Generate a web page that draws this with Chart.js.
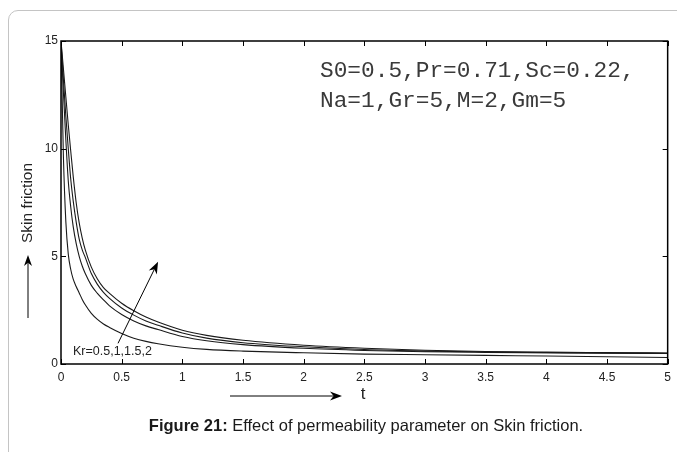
<!DOCTYPE html>
<html lang="en">
<head>
<meta charset="UTF-8">
<title>Skin friction vs t</title>
<script src="https://cdn.jsdelivr.net/npm/chart.js"></script>
<style>
    html, body {
        margin: 0;
        padding: 0;
        background: #fff;
        overflow: hidden;
    }
    body {
        width: 677px;
        height: 452px;
        position: relative;
        font-family: "Liberation Sans", Arial, sans-serif;
    }
    .card {
        position: absolute;
        left: 8px;
        top: 10px;
        width: 720px;
        height: 500px;
        border: 1.5px solid #c4c4c4;
        border-radius: 10px;
        box-sizing: border-box;
    }
    .wrap {
        position: absolute;
        left: 0;
        top: 0;
        width: 677px;
        height: 452px;
    }
    .caption {
        position: absolute;
        left: 366px;
        top: 416px;
        transform: translateX(-50%);
        white-space: nowrap;
        font-size: 16.5px;
        color: #1a1a1a;
    }
</style>
</head>
<body>
<div class="card"></div>
<div class="wrap"><canvas id="grafico" width="677" height="452"></canvas></div>
<div class="caption"><b>Figure 21:</b> Effect of permeability parameter on Skin friction.</div>

<script>
    // t values (x axis)
    const tValues = [0, 0.02, 0.04, 0.06, 0.08, 0.1, 0.125, 0.15, 0.175, 0.2, 0.25, 0.3, 0.35, 0.4, 0.5, 0.6, 0.7, 0.8, 1, 1.2, 1.5, 2, 2.5, 3, 3.5, 4, 4.5, 5];

    // skin friction for Kr = 0.5, 1, 1.5, 2
    const kr05 = [15, 9.6, 6.6, 5.1, 4.4, 3.95, 3.6, 3.3, 3.0, 2.75, 2.35, 2.07, 1.86, 1.7, 1.42, 1.2, 1.05, 0.94, 0.78, 0.68, 0.6, 0.52, 0.46, 0.43, 0.4, 0.37, 0.34, 0.3];
    const kr1  = [15, 12.6, 10.4, 8.5, 7.3, 6.4, 5.6, 5.0, 4.55, 4.2, 3.65, 3.28, 2.98, 2.7, 2.3, 2.0, 1.77, 1.6, 1.28, 1.08, 0.9, 0.73, 0.63, 0.57, 0.54, 0.52, 0.5, 0.49];
    const kr15 = [15, 13.2, 11.5, 10.0, 8.6, 7.6, 6.6, 5.8, 5.3, 4.95, 4.2, 3.7, 3.33, 3.05, 2.6, 2.27, 2.0, 1.8, 1.44, 1.2, 0.99, 0.8, 0.67, 0.6, 0.56, 0.53, 0.51, 0.5];
    const kr2  = [15, 13.7, 12.4, 11.1, 9.9, 8.75, 7.5, 6.55, 5.85, 5.3, 4.5, 3.95, 3.55, 3.28, 2.82, 2.47, 2.18, 1.95, 1.57, 1.33, 1.1, 0.87, 0.73, 0.64, 0.58, 0.55, 0.53, 0.51];

    const seriesNames = ['Kr=0.5', 'Kr=1', 'Kr=1.5', 'Kr=2'];
    const series = [kr05, kr1, kr15, kr2];

    const xTicks = [0, 0.5, 1, 1.5, 2, 2.5, 3, 3.5, 4, 4.5, 5];
    const yTicks = [0, 5, 10, 15];

    const paramLines = ['S0=0.5,Pr=0.71,Sc=0.22,', 'Na=1,Gr=5,M=2,Gm=5'];
    const krLabel = 'Kr=0.5,1,1.5,2';

    function arrow(ctx, x1, y1, x2, y2, headLen, headW) {
        const ang = Math.atan2(y2 - y1, x2 - x1);
        ctx.beginPath();
        ctx.moveTo(x1, y1);
        ctx.lineTo(x2 - Math.cos(ang) * headLen * 0.7, y2 - Math.sin(ang) * headLen * 0.7);
        ctx.stroke();
        ctx.save();
        ctx.translate(x2, y2);
        ctx.rotate(ang);
        ctx.beginPath();
        ctx.moveTo(0, 0);
        ctx.lineTo(-headLen, -headW / 2);
        ctx.lineTo(-headLen * 0.7, 0);
        ctx.lineTo(-headLen, headW / 2);
        ctx.closePath();
        ctx.fill();
        ctx.restore();
    }

    const decoraciones = {
        id: 'decoraciones',
        afterDraw(chart) {
            const { ctx, chartArea: a, scales: { x, y } } = chart;
            ctx.save();

            // frame
            ctx.strokeStyle = '#000';
            ctx.lineWidth = 1.5;
            ctx.strokeRect(a.left, a.top, a.right - a.left, a.bottom - a.top);

            // inward ticks on all sides
            ctx.lineWidth = 1;
            ctx.beginPath();
            xTicks.forEach(v => {
                const px = Math.round(x.getPixelForValue(v)) + 0.5;
                ctx.moveTo(px, a.bottom); ctx.lineTo(px, a.bottom - 5);
                ctx.moveTo(px, a.top); ctx.lineTo(px, a.top + 5);
            });
            yTicks.forEach(v => {
                const py = Math.round(y.getPixelForValue(v)) + 0.5;
                ctx.moveTo(a.left, py); ctx.lineTo(a.left + 5, py);
                ctx.moveTo(a.right, py); ctx.lineTo(a.right - 5, py);
            });
            ctx.stroke();

            // parameter text
            ctx.fillStyle = '#3a3a3a';
            ctx.font = '22.8px "Liberation Mono", "DejaVu Sans Mono", monospace';
            ctx.textBaseline = 'middle';
            ctx.textAlign = 'left';
            ctx.fillText(paramLines[0], 320, 71);
            ctx.fillText(paramLines[1], 320, 101);

            // Kr arrow + label
            ctx.strokeStyle = '#000';
            ctx.fillStyle = '#000';
            ctx.lineWidth = 1;
            arrow(ctx, x.getPixelForValue(0.47), y.getPixelForValue(0.96),
                       x.getPixelForValue(0.8), y.getPixelForValue(4.75), 12, 9);
            ctx.fillStyle = '#222';
            ctx.font = '12.5px "Liberation Sans", Arial, sans-serif';
            ctx.fillText(krLabel, 73, 352);

            // y axis title with arrow
            ctx.save();
            ctx.translate(28, 243);
            ctx.rotate(-Math.PI / 2);
            ctx.font = '15.5px "Liberation Sans", Arial, sans-serif';
            ctx.textAlign = 'left';
            ctx.textBaseline = 'middle';
            ctx.fillText('Skin friction', 0, 0);
            ctx.restore();
            ctx.fillStyle = '#000';
            arrow(ctx, 28, 318, 28, 255, 11, 8);

            // x axis title with arrow
            arrow(ctx, 230, 396, 342, 396, 12, 9);
            ctx.fillStyle = '#222';
            ctx.font = '17px "Liberation Sans", Arial, sans-serif';
            ctx.textAlign = 'center';
            ctx.fillText('t', 363, 394);

            ctx.restore();
        }
    };

    const ctxGrafico = document.getElementById('grafico').getContext('2d');

    const grafico = new Chart(ctxGrafico, {
        type: 'line',
        data: {
            datasets: series.map((s, i) => ({
                label: seriesNames[i],
                data: tValues.map((t, j) => ({ x: t, y: s[j] })),
                borderColor: '#1a1a1a',
                borderWidth: 1.1,
                pointRadius: 0,
                fill: false,
                cubicInterpolationMode: 'monotone'
            }))
        },
        options: {
            responsive: false,
            animation: false,
            layout: { padding: { left: 0, top: 41, right: 9, bottom: 58 } },
            plugins: { legend: { display: false }, tooltip: { enabled: false } },
            scales: {
                x: {
                    type: 'linear',
                    min: 0,
                    max: 5,
                    afterFit: s => { s.height = 30; },
                    afterBuildTicks: s => { s.ticks = xTicks.map(v => ({ value: v })); },
                    grid: { display: false, drawTicks: false },
                    border: { display: false },
                    ticks: {
                        padding: 6,
                        color: '#222',
                        font: { family: '"Liberation Sans", Arial, sans-serif', size: 12 },
                        maxRotation: 0,
                        callback: v => String(v)
                    }
                },
                y: {
                    min: 0,
                    max: 15,
                    afterFit: s => { s.width = 61; },
                    afterBuildTicks: s => { s.ticks = yTicks.map(v => ({ value: v })); },
                    grid: { display: false, drawTicks: false },
                    border: { display: false },
                    ticks: {
                        padding: 3,
                        color: '#222',
                        font: { family: '"Liberation Sans", Arial, sans-serif', size: 12 },
                        callback: v => String(v)
                    }
                }
            }
        },
        plugins: [decoraciones]
    });
</script>
</body>
</html>
